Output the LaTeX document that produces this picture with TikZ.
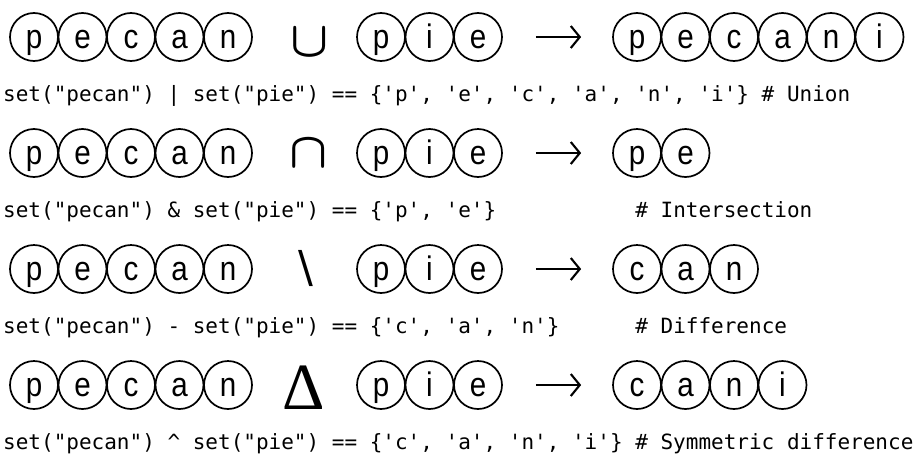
\documentclass[tikz,border=0pt]{standalone}
\usepackage{graphicx}
\usepackage{fontspec}
\setmonofont{DejaVu Sans Mono}
\newfontfamily\lfont{Liberation Sans}[FakeStretch=0.87]
\newfontfamily\symfont{DejaVu Sans}
\newfontfamily\trifont{Liberation Serif}
\usetikzlibrary{arrows.meta}
\newcommand\lrow[4]{\foreach \l [count=\i] in {#4} \node[letter] (#1\i) at ({#2+(\i-1)*48.5},#3) {\l};}
\begin{document}
\frenchspacing
\begin{tikzpicture}[x=1pt,y=1pt,
  letter/.style={circle,draw,line width=1.7pt,minimum size=48pt,inner sep=0pt,
    font=\lfont\fontsize{34}{34}\selectfont,text height=23pt,text depth=0pt},
  code/.style={anchor=base west,inner sep=0pt,font=\ttfamily\fontsize{21}{21}\selectfont},
  opsym/.style={anchor=base,inner sep=0pt},
  arr/.style={line width=2.1pt,-{Straight Barb[length=9pt,width=22pt]},shorten <=33pt,shorten >=31pt}]
\useasboundingbox (0,0) rectangle (915,-458);
% row 1: union
\lrow{r1a}{34}{-37}{p,e,c,a,n}
\node[opsym] (r1op) at (310,-56) {\scalebox{5}{\boldmath$\cup$}};
\lrow{r1b}{381}{-37}{p,i,e}
\lrow{r1c}{637}{-37}{p,e,c,a,n,i}
\draw[arr] (r1b3) -- (r1c1);
\node[code] (r1code) at (3,-101) {set("pecan") | set("pie") == \{'p', 'e', 'c', 'a', 'n', 'i'\} \# Union};
% row 2: intersection
\lrow{r2a}{34}{-153}{p,e,c,a,n}
\node[opsym] (r2op) at (309,-167) {\scalebox{5}{\boldmath$\cap$}};
\lrow{r2b}{381}{-153}{p,i,e}
\lrow{r2c}{637}{-153}{p,e}
\draw[arr] (r2b3) -- (r2c1);
\node[code] (r2code) at (3,-217) {set("pecan") \& set("pie") == \{'p', 'e'\}~~~~~~~~~~~\# Intersection};
% row 3: difference
\lrow{r3a}{34}{-269}{p,e,c,a,n}
\node[opsym,font=\symfont\fontsize{44}{44}\selectfont] (r3op) at (306,-282) {\textbackslash};
\lrow{r3b}{381}{-269}{p,i,e}
\lrow{r3c}{637}{-269}{c,a,n}
\draw[arr] (r3b3) -- (r3c1);
\node[code] (r3code) at (3,-333) {set("pecan") - set("pie") == \{'c', 'a', 'n'\}~~~~~~\# Difference};
% row 4: symmetric difference
\lrow{r4a}{34}{-385}{p,e,c,a,n}
\node[opsym,font=\trifont\fontsize{66}{66}\selectfont] (r4op) at (304,-409) {Δ};
\lrow{r4b}{381}{-385}{p,i,e}
\lrow{r4c}{637}{-385}{c,a,n,i}
\draw[arr] (r4b3) -- (r4c1);
\node[code] (r4code) at (3,-449) {set("pecan") \textasciicircum{} set("pie") == \{'c', 'a', 'n', 'i'\} \# Symmetric difference};
\end{tikzpicture}
\end{document}
